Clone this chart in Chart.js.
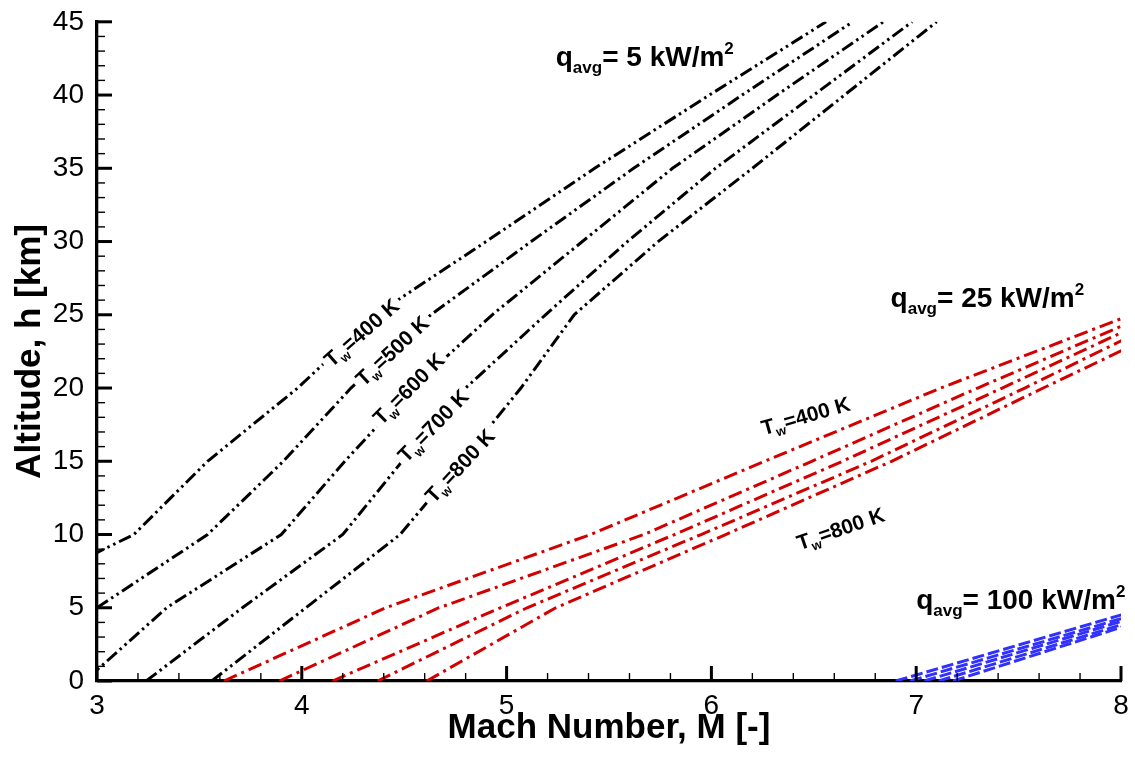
<!DOCTYPE html>
<html>
<head>
<meta charset="utf-8">
<script src="https://cdn.jsdelivr.net/npm/chart.js@4.4.0/dist/chart.umd.min.js"></script>
<style>
  html, body { margin: 0; padding: 0; background: #fff; }
</style>
</head>
<body>
<canvas id="machAltitude" width="1135" height="762"></canvas>
<script>
const FONT = "'Liberation Sans', Arial, Helvetica, sans-serif";

// wall temperatures, one curve each per heat flux level
const wallTemps = ['400', '500', '600', '700', '800'];

// altitude levels [km] the Mach values below are given at
const altLevels5 = [0, 5, 10, 15, 20, 25, 30, 35, 40, 45];
const altLevels25 = [0, 5, 10, 15, 20, 25];
const altLevels100 = [0, 5];

// q_avg = 5 kW/m2, Mach number at each altitude level (null = off the chart)
const mach5_400 = [null, 2.45, 3.18, 3.54, 3.98, 4.36, 4.90, 5.43, 5.99, 6.56];
const mach5_500 = [null, 3.00, 3.54, 3.91, 4.24, 4.63, 5.12, 5.62, 6.15, 6.69];
const mach5_600 = [2.94, 3.34, 3.90, 4.21, 4.54, 4.93, 5.37, 5.81, 6.32, 6.84];
const mach5_700 = [3.24, 3.71, 4.20, 4.49, 4.80, 5.19, 5.59, 6.02, 6.50, 6.98];
const mach5_800 = [3.56, 4.02, 4.48, 4.78, 5.07, 5.33, 5.74, 6.20, 6.65, 7.10];

// q_avg = 25 kW/m2
const mach25_400 = [3.62, 4.41, 5.41, 6.26, 7.12, 8.05];
const mach25_500 = [3.89, 4.67, 5.67, 6.49, 7.30, 8.13];
const mach25_600 = [4.15, 4.97, 5.82, 6.64, 7.42, 8.19];
const mach25_700 = [4.37, 5.10, 5.95, 6.78, 7.53, 8.26];
const mach25_800 = [4.61, 5.24, 6.07, 6.88, 7.62, 8.37];

// q_avg = 100 kW/m2
const mach100_400 = [6.90, 8.12];
const mach100_500 = [6.97, 8.18];
const mach100_600 = [7.04, 8.22];
const mach100_700 = [7.11, 8.27];
const mach100_800 = [7.18, 8.30];

function toPoints(machs, alts) {
  const pts = [];
  machs.forEach((m, i) => { if (m !== null) pts.push({ x: m, y: alts[i] }); });
  return pts;
}

const groups = [
  { alts: altLevels5, series: [mach5_400, mach5_500, mach5_600, mach5_700, mach5_800],
    color: '#000000', dash: [13, 4, 2.5, 4, 2.5, 4] },
  { alts: altLevels25, series: [mach25_400, mach25_500, mach25_600, mach25_700, mach25_800],
    color: '#d40000', dash: [14, 5, 3, 5] },
  { alts: altLevels100, series: [mach100_400, mach100_500, mach100_600, mach100_700, mach100_800],
    color: '#3030ff', dash: [12, 4] }
];

const datasets = [];
groups.forEach(g => {
  g.series.forEach((s, i) => {
    datasets.push({
      label: 'Tw=' + wallTemps[i] + ' K',
      data: toPoints(s, g.alts),
      showLine: true,
      borderColor: g.color,
      borderWidth: 3,
      borderDash: g.dash,
      borderCapStyle: 'butt',
      pointRadius: 0,
      tension: 0,
      fill: false
    });
  });
});

// draws a run of text pieces (for sub/superscripts), optionally rotated
function drawRich(ctx, parts, x, y, angle, centered, whiteBox) {
  ctx.save();
  ctx.translate(x, y);
  ctx.rotate(angle * Math.PI / 180);
  let w = 0;
  parts.forEach(p => {
    ctx.font = 'bold ' + p.size + 'px ' + FONT;
    p.w = ctx.measureText(p.text).width;
    w += p.w;
  });
  const s0 = parts[0].size;
  let cx = centered ? -w / 2 : 0;
  const base = centered ? s0 * 0.36 : 0;
  if (whiteBox) {
    ctx.fillStyle = '#fff';
    ctx.fillRect(cx - 4, base - s0 * 0.9, w + 8, s0 * 1.25);
  }
  ctx.fillStyle = '#000';
  ctx.textBaseline = 'alphabetic';
  parts.forEach(p => {
    ctx.font = 'bold ' + p.size + 'px ' + FONT;
    ctx.fillText(p.text, cx, base + (p.dy || 0));
    cx += p.w;
  });
  ctx.restore();
}

function qLabel(val) {
  return [
    { text: 'q', size: 28 },
    { text: 'avg', size: 17, dy: 7 },
    { text: '= ' + val + ' kW/m', size: 28 },
    { text: '2', size: 17, dy: -12 }
  ];
}
function twLabel(t) {
  return [
    { text: 'T', size: 21 },
    { text: 'w', size: 13, dy: 5 },
    { text: '=' + t + ' K', size: 21 }
  ];
}

const annotations = {
  id: 'annotations',
  afterDatasetsDraw(chart) {
    const { ctx, scales: { x, y } } = chart;
    const P = (m, h) => [x.getPixelForValue(m), y.getPixelForValue(h)];
    // labels sitting on the 5 kW/m2 curves
    [[4.29, 23.8, -41, '400'], [4.44, 22.56, -43, '500'], [4.52, 19.97, -45, '600'],
     [4.64, 17.45, -46, '700'], [4.77, 14.72, -47, '800']].forEach(l => {
      const [px, py] = P(l[0], l[1]);
      drawRich(ctx, twLabel(l[3]), px, py, l[2], true, true);
    });
    // 25 kW/m2 curve labels
    [[6.46, 18.13, -16, '400'], [6.63, 10.43, -19, '800']].forEach(l => {
      const [px, py] = P(l[0], l[1]);
      drawRich(ctx, twLabel(l[3]), px, py, l[2], true, false);
    });
    // heat flux labels
    [[5.24, 42.0, '5'], [6.875, 25.5, '25'], [7.0, 4.9, '100']].forEach(l => {
      const [px, py] = P(l[0], l[1]);
      drawRich(ctx, qLabel(l[2]), px, py, 0, false, false);
    });
  }
};

// major and minor tick marks pointing into the plot
const inwardTicks = {
  id: 'inwardTicks',
  afterDraw(chart) {
    const { ctx, chartArea: a, scales: { x, y } } = chart;
    ctx.save();
    ctx.strokeStyle = '#000';
    for (let i = 0; i <= 25; i++) {
      const major = i % 5 === 0;
      const px = x.getPixelForValue(3 + i * 0.2);
      ctx.lineWidth = major ? 3 : 1.4;
      ctx.beginPath();
      ctx.moveTo(px, a.bottom);
      ctx.lineTo(px, a.bottom - (major ? 15 : 8));
      ctx.stroke();
    }
    for (let i = 0; i <= 45; i++) {
      const major = i % 5 === 0;
      const py = y.getPixelForValue(i);
      ctx.lineWidth = major ? 3 : 1.4;
      ctx.beginPath();
      ctx.moveTo(a.left, py);
      ctx.lineTo(a.left + (major ? 15 : 8), py);
      ctx.stroke();
    }
    ctx.restore();
  }
};

new Chart(document.getElementById('machAltitude'), {
  type: 'scatter',
  data: { datasets: datasets },
  options: {
    responsive: false,
    animation: false,
    layout: { padding: { left: 0, right: 14, top: 12, bottom: 0 } },
    plugins: { legend: { display: false }, tooltip: { enabled: false } },
    scales: {
      x: {
        type: 'linear',
        min: 3,
        max: 8,
        afterFit: s => { s.height = 81; },
        grid: { display: false },
        border: { display: true, color: '#000', width: 3.3 },
        ticks: { stepSize: 1, color: '#000', padding: 0, font: { family: FONT, size: 28 } },
        title: {
          display: true,
          text: 'Mach Number, M [-]',
          color: '#000',
          font: { family: FONT, size: 35, weight: 'bold' },
          padding: { top: 0, bottom: 13 }
        }
      },
      y: {
        type: 'linear',
        min: 0,
        max: 45,
        afterFit: s => { s.width = 97; },
        grid: { display: false },
        border: { display: true, color: '#000', width: 3.3 },
        ticks: { stepSize: 5, color: '#000', padding: 5, font: { family: FONT, size: 28 } },
        title: {
          display: true,
          text: 'Altitude, h [km]',
          color: '#000',
          font: { family: FONT, size: 35, weight: 'bold' },
          padding: { top: 9, bottom: 0 }
        }
      }
    }
  },
  plugins: [annotations, inwardTicks]
});
</script>
</body>
</html>
